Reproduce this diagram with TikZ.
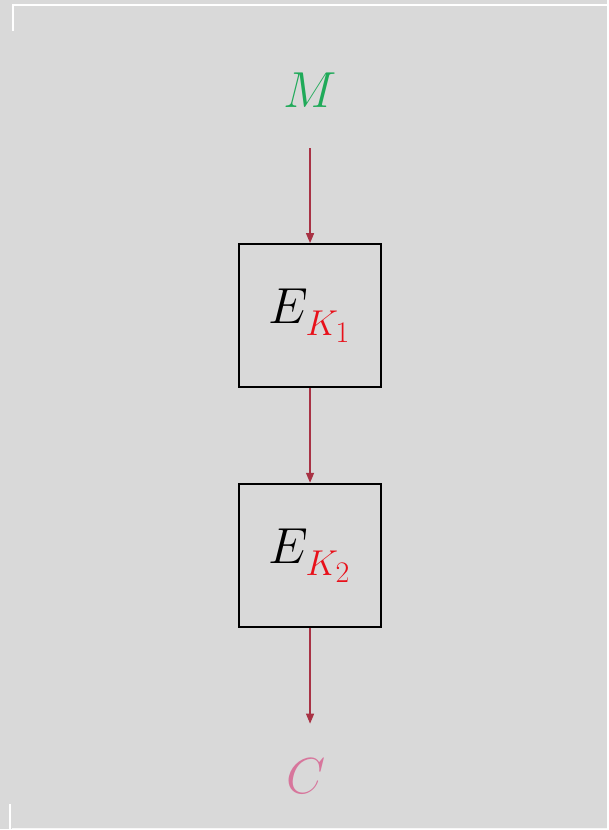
\documentclass[tikz,border=0pt]{standalone}
\usetikzlibrary{arrows.meta}

\definecolor{bggray}{HTML}{D9D9D9}
\definecolor{flowred}{HTML}{A83244}
\definecolor{msggreen}{HTML}{1FAA59}
\definecolor{ctpink}{HTML}{D7769C}
\definecolor{keyred}{HTML}{E8101A}

% math symbols blown up past \Huge
\newcommand{\bigsym}[1]{\scalebox{1.45}{\Huge$#1$}}
% small, dropped key subscript
\newcommand{\keysub}[1]{\raisebox{-2.2pt}{\scalebox{0.85}{$\scriptstyle\color{keyred}K_#1$}}}

\tikzset{
	encbox/.style={draw, line width = 0.05cm, minimum size = 3.575cm, inner sep = 0pt},
	flow/.style={flowred, line width = 0.033cm, -{Triangle[length=0.25cm, width=0.2cm]}}
}

\begin{document}
\begin{tikzpicture}[x=0.025cm, y=-0.025cm]
		
		\fill[bggray] (0,0) rectangle (608,830);
		
		% white frame edges
		\draw[white, line width = 0.06cm] (12,5) -- (608,5);
		\draw[white, line width = 0.06cm] (13,4) -- (13,31);
		\draw[white, line width = 0.06cm] (10,805) -- (10,830);
		\draw[white!80!bggray, line width = 0.03cm] (12,829.5) -- (608,829.5);
		
		\node[text=msggreen] (msg) at (310.5,90) {\bigsym{M}};
		\node[encbox] (enc1) at (310.5,316) {\bigsym{E_{\keysub{1}}}};
		\node[encbox] (enc2) at (310.5,556) {\bigsym{E_{\keysub{2}}}};
		\node[text=ctpink] (ct) at (307,777) {\bigsym{C}};
		
		\draw[flow, shorten <= 0.9cm] (msg) -- (enc1);
		\draw[flow] (enc1) -- (enc2);
		\draw[flow, shorten >= 0.75cm] (enc2) -- (enc2 |- ct.north);
		
	\end{tikzpicture}
\end{document}
